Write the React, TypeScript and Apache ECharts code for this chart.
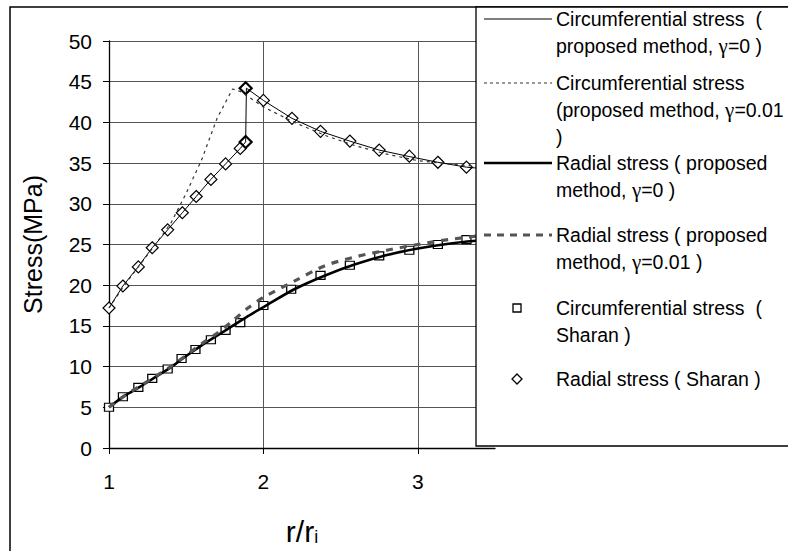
import React, { useEffect, useRef } from "react";
import * as echarts from "echarts";

// ---- data ----
const seriesNames = [
  "Circumferential stress ( proposed method, γ=0 )",
  "Circumferential stress (proposed method, γ=0.01 )",
  "Radial stress ( proposed method, γ=0 )",
  "Radial stress ( proposed method, γ=0.01 )",
  "Circumferential stress ( Sharan )",
  "Radial stress ( Sharan )",
];

// legend text as it wraps in the reference ({g|γ} marks the Greek letter)
const legendLines = [
  ["Circumferential stress  (", "proposed method, {g|γ}=0 )"],
  ["Circumferential stress", "(proposed method, {g|γ}=0.01", ")"],
  ["Radial stress ( proposed", "method, {g|γ}=0 )"],
  ["Radial stress ( proposed", "method, {g|γ}=0.01 )"],
  ["Circumferential stress  (", "Sharan )"],
  ["Radial stress ( Sharan )"],
];

// thin solid line (circumferential, proposed, gamma = 0)
const circG0X = [1, 1.09, 1.19, 1.28, 1.38, 1.475, 1.565, 1.66, 1.755, 1.85, 1.885, 1.89, 2.0, 2.185, 2.37, 2.56, 2.75, 2.945, 3.13, 3.315, 3.5];
const circG0Y = [17.2, 19.9, 22.3, 24.6, 26.8, 28.9, 30.9, 33.0, 34.9, 36.8, 37.6, 44.2, 42.7, 40.5, 38.9, 37.7, 36.6, 35.8, 35.1, 34.5, 34.2];

// thin dotted line (circumferential, proposed, gamma = 0.01)
const circG1X = [1, 1.1, 1.2, 1.3, 1.4, 1.5, 1.6, 1.7, 1.8, 1.85, 1.9, 2.0, 2.2, 2.4, 2.6, 2.8, 3.0, 3.2, 3.5];
const circG1Y = [17.2, 20.0, 22.5, 25.0, 27.6, 31.3, 35.4, 40.5, 44.1, 43.8, 43.2, 41.9, 40.0, 38.4, 37.1, 36.1, 35.3, 34.9, 34.4];

// thick solid line (radial, proposed, gamma = 0)
const radG0X = [1, 1.1, 1.2, 1.3, 1.4, 1.5, 1.6, 1.7, 1.8, 1.9, 2.0, 2.2, 2.4, 2.6, 2.8, 3.0, 3.2, 3.5];
const radG0Y = [5.0, 6.4, 7.5, 8.7, 9.9, 11.3, 12.6, 13.8, 15.0, 16.2, 17.3, 19.5, 21.2, 22.6, 23.7, 24.5, 25.1, 25.7];

// thick dashed line (radial, proposed, gamma = 0.01)
const radG1X = [1, 1.1, 1.2, 1.3, 1.4, 1.5, 1.6, 1.7, 1.8, 1.9, 2.0, 2.2, 2.4, 2.6, 2.8, 3.0, 3.2, 3.5];
const radG1Y = [5.0, 6.4, 7.6, 8.8, 10.0, 11.4, 12.8, 14.1, 15.6, 17.2, 18.5, 20.5, 22.4, 23.5, 24.3, 25.0, 25.6, 26.3];

// Sharan squares
const sharanSqX = [1, 1.09, 1.19, 1.28, 1.38, 1.47, 1.56, 1.66, 1.755, 1.85, 2.0, 2.18, 2.37, 2.56, 2.75, 2.945, 3.13, 3.315];
const sharanSqY = [5.0, 6.3, 7.45, 8.55, 9.7, 11.0, 12.1, 13.3, 14.45, 15.4, 17.5, 19.5, 21.2, 22.45, 23.6, 24.3, 25.0, 25.6];

// Sharan diamonds
const sharanDiX = [1, 1.09, 1.19, 1.28, 1.38, 1.475, 1.565, 1.66, 1.755, 1.85, 1.885, 1.885, 2.0, 2.185, 2.37, 2.56, 2.75, 2.945, 3.13, 3.315];
const sharanDiY = [17.2, 19.9, 22.25, 24.6, 26.8, 28.9, 30.9, 33.0, 34.9, 36.8, 37.6, 44.2, 42.7, 40.5, 38.9, 37.7, 36.6, 35.85, 35.1, 34.5];
const boldDiamondIdx = [10, 11];

const xTickValues = [1, 2, 3];

const pairs = (xs: number[], ys: number[]) => xs.map((x, i) => [x, ys[i]]);

export default function App() {
  const ref = useRef<HTMLDivElement>(null);

  useEffect(() => {
    document.body.style.margin = "0";
    if (!ref.current) return;
    const chart = echarts.init(ref.current, null, { renderer: "svg" });
    const font = "'Liberation Sans', Arial, Helvetica, sans-serif";
    const gridColor = "#555";

    const legendX0 = 484;
    const legendX1 = 552;
    const textX = 556;
    const lineH = 27;
    const itemCenters = [19, 83, 163, 235, 308, 379];

    const legendGraphics: any[] = [
      {
        type: "rect",
        z: 100,
        shape: { x: 476, y: 7, width: 330, height: 439 },
        style: { fill: "#fff", stroke: "#000", lineWidth: 1.3 },
      },
    ];
    const markerStyles: any[] = [
      { kind: "line", stroke: "#000", lineWidth: 1 },
      { kind: "line", stroke: "#333", lineWidth: 1.2, lineDash: [3, 3] },
      { kind: "line", stroke: "#000", lineWidth: 2.6 },
      { kind: "line", stroke: "#555", lineWidth: 3.2, lineDash: [7, 6] },
      { kind: "square" },
      { kind: "diamond" },
    ];
    legendLines.forEach((lines, i) => {
      const cy = itemCenters[i];
      const m = markerStyles[i];
      if (m.kind === "line") {
        legendGraphics.push({
          type: "line",
          z: 101,
          shape: { x1: legendX0, y1: cy, x2: legendX1, y2: cy },
          style: { stroke: m.stroke, lineWidth: m.lineWidth, lineDash: m.lineDash || null },
        });
      } else if (m.kind === "square") {
        legendGraphics.push({
          type: "rect",
          z: 101,
          shape: { x: 513, y: cy - 4, width: 8, height: 8 },
          style: { fill: "#fff", stroke: "#000", lineWidth: 1.3 },
        });
      } else {
        legendGraphics.push({
          type: "polygon",
          z: 101,
          shape: { points: [[517, cy - 5], [522, cy], [517, cy + 5], [512, cy]] },
          style: { fill: "#fff", stroke: "#000", lineWidth: 1.3 },
        });
      }
      legendGraphics.push({
        type: "text",
        z: 101,
        x: textX,
        y: cy - lineH / 2,
        style: {
          text: lines.join("\n"),
          fontFamily: font,
          fontSize: 19.5,
          lineHeight: lineH,
          fill: "#000",
          align: "left",
          verticalAlign: "top",
          rich: {
            g: { fontFamily: "'Liberation Serif', 'DejaVu Serif', serif", fontSize: 21, lineHeight: lineH, fill: "#000" },
          },
        },
      });
    });

    chart.setOption({
      animation: false,
      backgroundColor: "#fff",
      grid: { left: 109, top: 41, right: 293, bottom: 101, containLabel: false, show: false },
      xAxis: {
        type: "value",
        min: 1,
        max: 3.5,
        interval: 1,
        name: "{a|r/r}{b|i}",
        nameLocation: "middle",
        nameGap: 64,
        nameTextStyle: {
          rich: {
            a: { fontFamily: font, fontSize: 30, lineHeight: 34, verticalAlign: "bottom", color: "#000" },
            b: { fontFamily: font, fontSize: 18, lineHeight: 18, verticalAlign: "bottom", color: "#000" },
          },
        },
        axisLine: { show: true, onZero: false, lineStyle: { color: "#000", width: 1.3 } },
        axisTick: { show: true, length: 6, inside: false, lineStyle: { color: "#000" }, customValues: xTickValues },
        axisLabel: { fontFamily: font, fontSize: 21, color: "#000", margin: 23, showMaxLabel: false },
        splitLine: { show: true, lineStyle: { color: gridColor, width: 1 } },
      },
      yAxis: {
        type: "value",
        min: 0,
        max: 50,
        interval: 5,
        name: "Stress(MPa)",
        nameLocation: "middle",
        nameRotate: 90,
        nameGap: 64,
        nameTextStyle: { fontFamily: font, fontSize: 25, color: "#000" },
        axisLine: { show: true, onZero: false, lineStyle: { color: "#000", width: 1.3 } },
        axisTick: { show: true, length: 6, inside: false, lineStyle: { color: "#000" } },
        axisLabel: { fontFamily: font, fontSize: 21, color: "#000", margin: 17 },
        splitLine: { show: true, lineStyle: { color: gridColor, width: 1 } },
      },
      graphic: [
        {
          type: "rect",
          z: 99,
          silent: true,
          shape: { x: 10, y: 7, width: 800, height: 560 },
          style: { fill: "none", stroke: "#000", lineWidth: 1.5 },
        },
        ...legendGraphics,
      ],
      series: [
        {
          name: seriesNames[0],
          type: "line",
          data: pairs(circG0X, circG0Y),
          showSymbol: false,
          lineStyle: { color: "#000", width: 1 },
        },
        {
          name: seriesNames[1],
          type: "line",
          data: pairs(circG1X, circG1Y),
          showSymbol: false,
          lineStyle: { color: "#333", width: 1.2, type: [3, 4] },
        },
        {
          name: seriesNames[2],
          type: "line",
          data: pairs(radG0X, radG0Y),
          showSymbol: false,
          smooth: 0.3,
          lineStyle: { color: "#000", width: 2.6 },
        },
        {
          name: seriesNames[3],
          type: "line",
          data: pairs(radG1X, radG1Y),
          showSymbol: false,
          smooth: 0.3,
          lineStyle: { color: "#555", width: 3.2, type: [7, 7] },
        },
        {
          name: seriesNames[4],
          type: "scatter",
          data: pairs(sharanSqX, sharanSqY),
          symbol: "rect",
          symbolSize: [9, 8],
          itemStyle: { color: "#fff", borderColor: "#000", borderWidth: 1.2, opacity: 1 },
        },
        {
          name: seriesNames[5],
          type: "scatter",
          data: pairs(sharanDiX, sharanDiY).map((p, i) =>
            boldDiamondIdx.includes(i)
              ? { value: p, itemStyle: { borderWidth: 2.2 } }
              : { value: p }
          ),
          symbol: "diamond",
          symbolSize: [12, 12],
          itemStyle: { color: "#fff", borderColor: "#000", borderWidth: 1.2, opacity: 1 },
        },
      ],
    });

    return () => chart.dispose();
  }, []);

  return <div ref={ref} style={{ width: 788, height: 551 }} />;
}
